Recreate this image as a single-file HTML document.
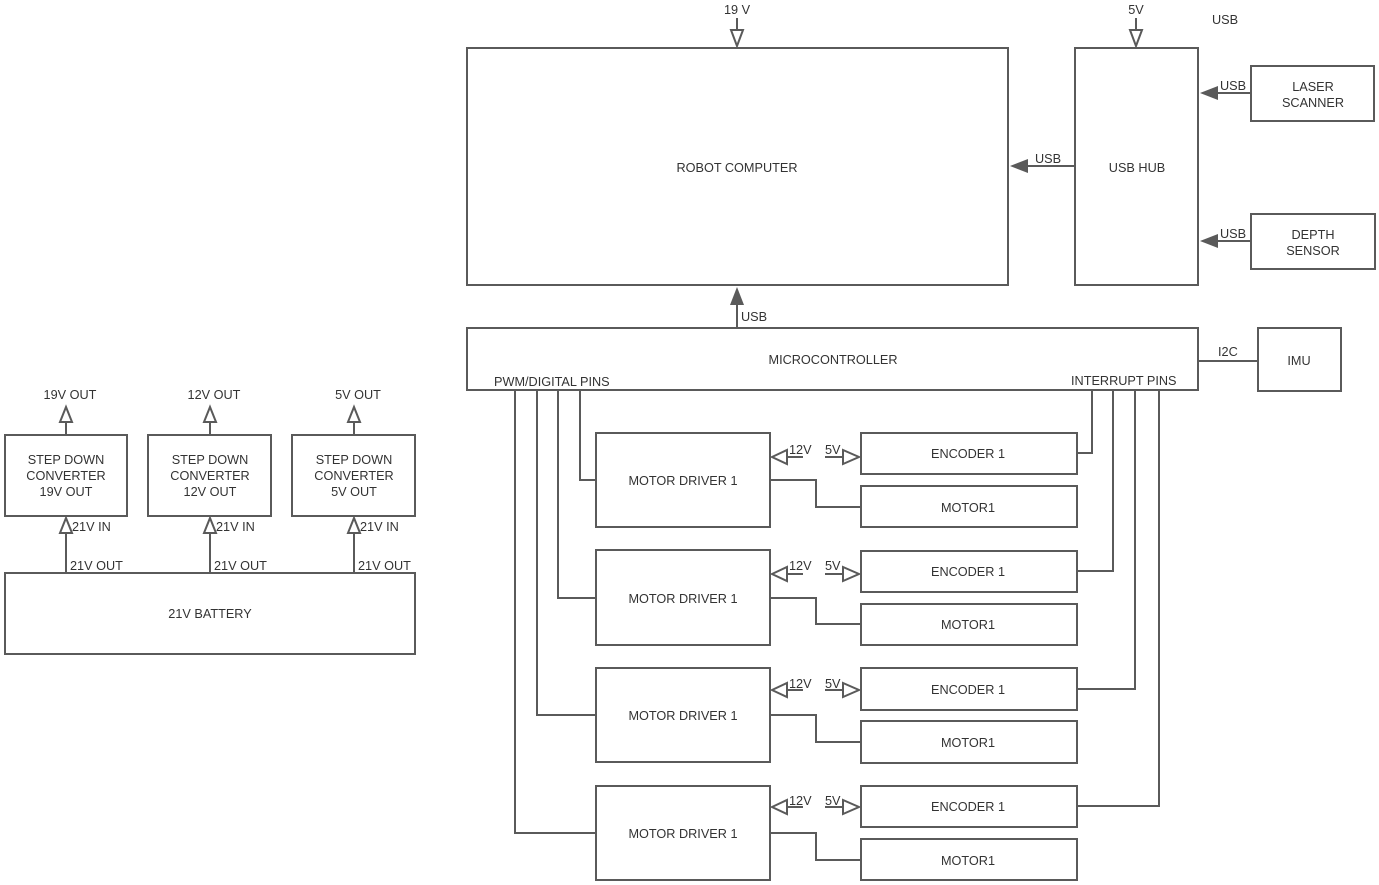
<!DOCTYPE html>
<html><head><meta charset="utf-8"><style>
html,body{margin:0;padding:0;background:#fff;}
svg{display:block;}
text{font-family:"Liberation Sans",sans-serif;font-size:12.7px;fill:#333;}
</style></head><body>
<svg width="1379" height="885" viewBox="0 0 1379 885" xmlns="http://www.w3.org/2000/svg">
<g fill="none" stroke="#5a5a5a" stroke-width="2">
<rect x="467" y="48" width="541" height="237"/>
<rect x="1075" y="48" width="123" height="237"/>
<rect x="1251" y="66" width="123" height="55"/>
<rect x="1251" y="214" width="124" height="55"/>
<rect x="467" y="328" width="731" height="62"/>
<rect x="1258" y="328" width="83" height="63"/>
<line x1="737" y1="18" x2="737" y2="30"/>
<polygon points="731,30 743,30 737,46" fill="#fff"/>
<line x1="1136" y1="18" x2="1136" y2="30"/>
<polygon points="1130,30 1142,30 1136,46" fill="#fff"/>
<line x1="1251" y1="93" x2="1215" y2="93"/>
<line x1="1251" y1="241" x2="1215" y2="241"/>
<line x1="1075" y1="166" x2="1025" y2="166"/>
<line x1="737" y1="328" x2="737" y2="302"/>
<line x1="1198" y1="361" x2="1258" y2="361"/>
<polyline points="580,390 580,480 596,480"/>
<polyline points="558,390 558,598 596,598"/>
<polyline points="537,390 537,715 596,715"/>
<polyline points="515,390 515,833 596,833"/>
<polyline points="1092,390 1092,453 1077,453"/>
<polyline points="1113,390 1113,571 1077,571"/>
<polyline points="1135,390 1135,689 1077,689"/>
<polyline points="1159,390 1159,806 1077,806"/>
<rect x="596" y="433" width="174" height="94"/>
<rect x="861" y="433" width="216" height="41"/>
<rect x="861" y="486" width="216" height="41"/>
<polyline points="770,480 816,480 816,507 861,507"/>
<rect x="596" y="550" width="174" height="95"/>
<rect x="861" y="551" width="216" height="41"/>
<rect x="861" y="604" width="216" height="41"/>
<polyline points="770,598 816,598 816,624 861,624"/>
<rect x="596" y="668" width="174" height="94"/>
<rect x="861" y="668" width="216" height="42"/>
<rect x="861" y="721" width="216" height="42"/>
<polyline points="770,715 816,715 816,742 861,742"/>
<rect x="596" y="786" width="174" height="94"/>
<rect x="861" y="786" width="216" height="41"/>
<rect x="861" y="839" width="216" height="41"/>
<polyline points="770,833 816,833 816,860 861,860"/>
<g>
<line x1="787" y1="457" x2="803" y2="457"/><polygon points="772,457 787,450 787,464" fill="#fff"/>
<line x1="825" y1="457" x2="843" y2="457"/><polygon points="843,450 843,464 859,457" fill="#fff"/>
<line x1="787" y1="574" x2="803" y2="574"/><polygon points="772,574 787,567 787,581" fill="#fff"/>
<line x1="825" y1="574" x2="843" y2="574"/><polygon points="843,567 843,581 859,574" fill="#fff"/>
<line x1="787" y1="690" x2="803" y2="690"/><polygon points="772,690 787,683 787,697" fill="#fff"/>
<line x1="825" y1="690" x2="843" y2="690"/><polygon points="843,683 843,697 859,690" fill="#fff"/>
<line x1="787" y1="807" x2="803" y2="807"/><polygon points="772,807 787,800 787,814" fill="#fff"/>
<line x1="825" y1="807" x2="843" y2="807"/><polygon points="843,800 843,814 859,807" fill="#fff"/>
</g>
<rect x="5" y="435" width="122" height="81"/>
<rect x="148" y="435" width="123" height="81"/>
<rect x="292" y="435" width="123" height="81"/>
<rect x="5" y="573" width="410" height="81"/>
<line x1="66" y1="573" x2="66" y2="533"/><polygon points="60,533 72,533 66,518" fill="#fff"/>
<line x1="210" y1="573" x2="210" y2="533"/><polygon points="204,533 216,533 210,518" fill="#fff"/>
<line x1="354" y1="573" x2="354" y2="533"/><polygon points="348,533 360,533 354,518" fill="#fff"/>
<line x1="66" y1="435" x2="66" y2="422"/><polygon points="60,422 72,422 66,407" fill="#fff"/>
<line x1="210" y1="435" x2="210" y2="422"/><polygon points="204,422 216,422 210,407" fill="#fff"/>
<line x1="354" y1="435" x2="354" y2="422"/><polygon points="348,422 360,422 354,407" fill="#fff"/>
</g>
<g fill="#5a5a5a">
<polygon points="1200,93 1218,86 1218,100"/>
<polygon points="1200,241 1218,234 1218,248"/>
<polygon points="1010,166 1028,159 1028,173"/>
<polygon points="737,287 730,305 744,305"/>
</g>
<g text-anchor="middle">
<text x="737" y="172">ROBOT COMPUTER</text>
<text x="1137" y="172">USB HUB</text>
<text x="1313" y="91">LASER</text><text x="1313" y="107">SCANNER</text>
<text x="1313" y="239">DEPTH</text><text x="1313" y="255">SENSOR</text>
<text x="833" y="364">MICROCONTROLLER</text>
<text x="1299" y="365">IMU</text>
<text x="683" y="485">MOTOR DRIVER 1</text>
<text x="683" y="603">MOTOR DRIVER 1</text>
<text x="683" y="720">MOTOR DRIVER 1</text>
<text x="683" y="838">MOTOR DRIVER 1</text>
<text x="968" y="458">ENCODER 1</text>
<text x="968" y="576">ENCODER 1</text>
<text x="968" y="694">ENCODER 1</text>
<text x="968" y="811">ENCODER 1</text>
<text x="968" y="512">MOTOR1</text>
<text x="968" y="629">MOTOR1</text>
<text x="968" y="747">MOTOR1</text>
<text x="968" y="865">MOTOR1</text>
<text x="66" y="464">STEP DOWN</text><text x="66" y="480">CONVERTER</text><text x="66" y="496">19V OUT</text>
<text x="210" y="464">STEP DOWN</text><text x="210" y="480">CONVERTER</text><text x="210" y="496">12V OUT</text>
<text x="354" y="464">STEP DOWN</text><text x="354" y="480">CONVERTER</text><text x="354" y="496">5V OUT</text>
<text x="210" y="618">21V BATTERY</text>
<text x="70" y="399">19V OUT</text>
<text x="214" y="399">12V OUT</text>
<text x="358" y="399">5V OUT</text>
<text x="737" y="14">19 V</text>
<text x="1136" y="14">5V</text>
</g>
<text x="1212" y="24">USB</text>
<text x="1220" y="90">USB</text>
<text x="1220" y="238">USB</text>
<text x="1035" y="163">USB</text>
<text x="741" y="321">USB</text>
<text x="1218" y="356">I2C</text>
<text x="494" y="386">PWM/DIGITAL PINS</text>
<text x="1071" y="385">INTERRUPT PINS</text>
<text x="789" y="454">12V</text><text x="825" y="454">5V</text>
<text x="789" y="570">12V</text><text x="825" y="570">5V</text>
<text x="789" y="688">12V</text><text x="825" y="688">5V</text>
<text x="789" y="805">12V</text><text x="825" y="805">5V</text>
<text x="72" y="531">21V IN</text>
<text x="216" y="531">21V IN</text>
<text x="360" y="531">21V IN</text>
<text x="70" y="570">21V OUT</text>
<text x="214" y="570">21V OUT</text>
<text x="358" y="570">21V OUT</text>
</svg>
</body></html>
